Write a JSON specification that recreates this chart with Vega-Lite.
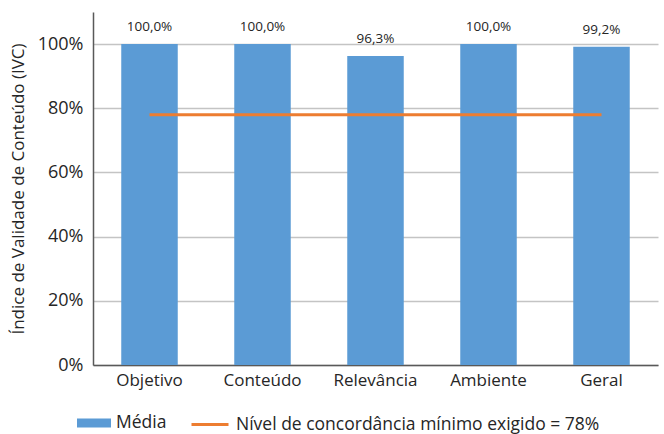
{
  "$schema": "https://vega.github.io/schema/vega-lite/v6.json",
  "width": 565,
  "height": 353,
  "autosize": "none",
  "padding": {"left": 93, "top": 12, "right": 6, "bottom": 69},
  "config": {
    "locale": {"number": {"decimal": ",", "thousands": ".", "grouping": [3], "currency": ["R$", ""]}},
    "view": {"stroke": null},
    "font": "Open Sans"
  },
  "datasets": {
    "bars": [
      {"categoria": "Objetivo", "valor": 1.0, "serie": "Média"},
      {"categoria": "Conteúdo", "valor": 1.0, "serie": "Média"},
      {"categoria": "Relevância", "valor": 0.963, "serie": "Média"},
      {"categoria": "Ambiente", "valor": 1.0, "serie": "Média"},
      {"categoria": "Geral", "valor": 0.992, "serie": "Média"}
    ],
    "limite": [
      {"categoria": "Objetivo", "valor": 0.78, "serie": "Nível de concordância mínimo exigido = 78%"},
      {"categoria": "Conteúdo", "valor": 0.78, "serie": "Nível de concordância mínimo exigido = 78%"},
      {"categoria": "Relevância", "valor": 0.78, "serie": "Nível de concordância mínimo exigido = 78%"},
      {"categoria": "Ambiente", "valor": 0.78, "serie": "Nível de concordância mínimo exigido = 78%"},
      {"categoria": "Geral", "valor": 0.78, "serie": "Nível de concordância mínimo exigido = 78%"}
    ]
  },
  "encoding": {
    "x": {
      "field": "categoria",
      "type": "nominal",
      "sort": null,
      "scale": {"paddingInner": 0.5, "paddingOuter": 0.25},
      "axis": {
        "title": null,
        "labelAngle": 0,
        "ticks": false,
        "domainColor": "#595959",
        "domainWidth": 1.5,
        "labelFontSize": 17,
        "labelColor": "#262626",
        "labelPadding": 7,
        "grid": false
      }
    },
    "y": {
      "field": "valor",
      "type": "quantitative",
      "scale": {"domain": [0, 1.1], "nice": false},
      "axis": {
        "values": [0, 0.2, 0.4, 0.6, 0.8, 1.0],
        "format": ".0%",
        "title": "Índice de Validade de Conteúdo (IVC)",
        "titleFontSize": 17,
        "titleFontWeight": "normal",
        "titleColor": "#262626",
        "titlePadding": 10,
        "labelFontSize": 18,
        "labelColor": "#262626",
        "labelPadding": 10,
        "ticks": false,
        "domainColor": "#595959",
        "domainWidth": 1.5,
        "grid": true,
        "gridColor": "#C4C4C4",
        "gridWidth": 1.5
      }
    }
  },
  "layer": [
    {
      "data": {"name": "bars"},
      "mark": {"type": "bar"},
      "encoding": {
        "color": {
          "field": "serie",
          "type": "nominal",
          "scale": {"domain": ["Média"], "range": ["#5B9BD5"]},
          "legend": {
            "title": null,
            "orient": "none",
            "legendX": -16,
            "legendY": 394,
            "padding": 0,
            "symbolType": "M-1,-0.265H1V0.265H-1Z",
            "symbolSize": 1156,
            "symbolStrokeWidth": 0,
            "labelFontSize": 17.5,
            "labelColor": "#262626",
            "labelOffset": 5,
            "labelLimit": 0
          }
        }
      }
    },
    {
      "data": {"name": "bars"},
      "mark": {"type": "text", "dy": -17, "fontSize": 13.5, "color": "#262626"},
      "encoding": {
        "text": {"field": "valor", "type": "quantitative", "format": ".1%"}
      }
    },
    {
      "data": {"name": "limite"},
      "mark": {"type": "line", "strokeWidth": 3},
      "encoding": {
        "stroke": {
          "field": "serie",
          "type": "nominal",
          "scale": {"range": ["#ED7D31"]},
          "legend": {
            "title": null,
            "orient": "none",
            "legendX": 97,
            "legendY": 392.5,
            "padding": 0,
            "symbolType": "stroke",
            "symbolSize": 1369,
            "symbolStrokeWidth": 3,
            "labelFontSize": 17.5,
            "labelColor": "#262626",
            "labelOffset": 6,
            "labelLimit": 0
          }
        }
      }
    }
  ]
}
